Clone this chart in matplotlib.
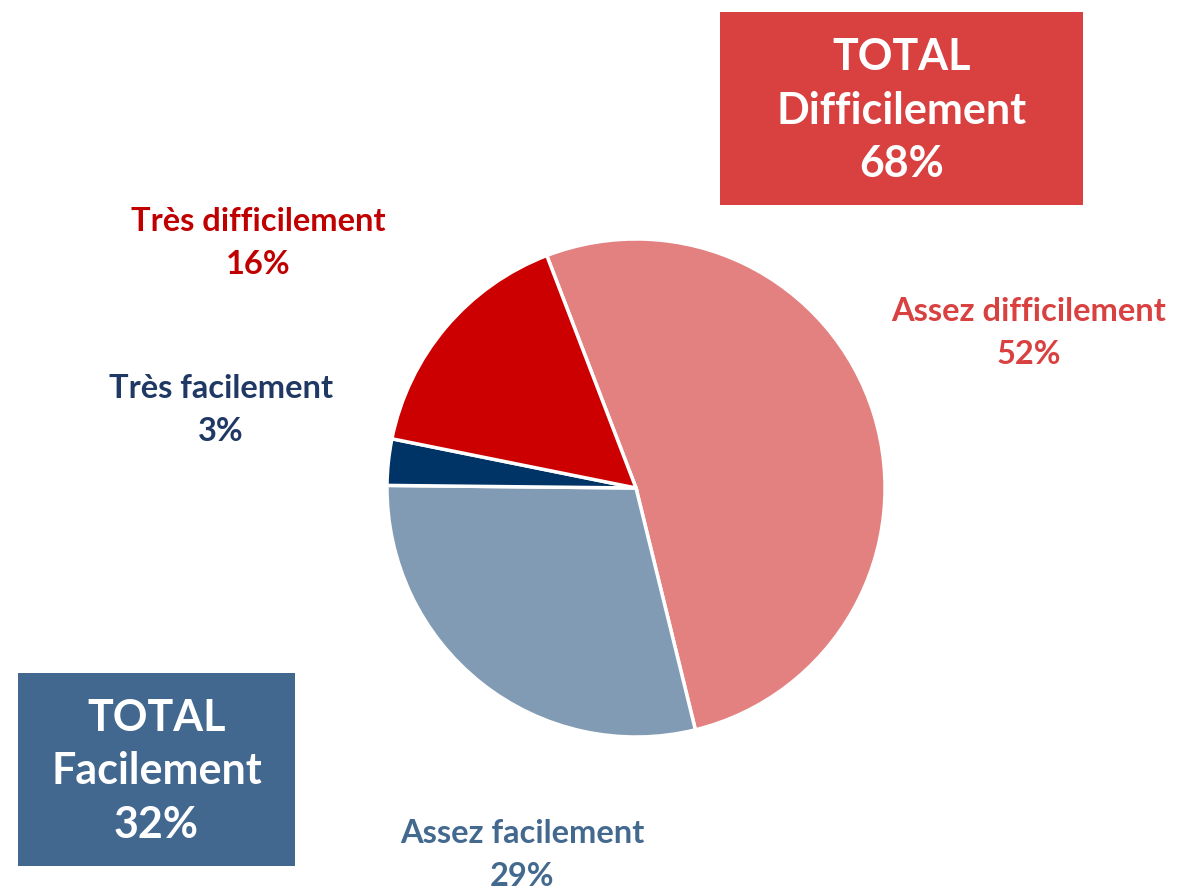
import matplotlib.pyplot as plt
from matplotlib.patches import Rectangle

# Data
labels = ["Assez difficilement", "Assez facilement", "Très facilement", "Très difficilement"]
values = [52, 29, 3, 16]
colors = ["#E38080", "#819BB4", "#003366", "#CC0000"]
label_colors = ["#D94141", "#44698F", "#1F3864", "#C00000"]
label_pos = [(1029, 333), (522, 855), (221, 410), (258, 243)]

totals = ["TOTAL\nDifficilement\n68%", "TOTAL\nFacilement\n32%"]
total_colors = ["#D94141", "#426890"]
# boxes: x0, y0(top), x1, y1(bottom) in pixel coords
total_boxes = [(720, 12, 1083, 205), (18, 673, 295, 866)]

W, H = 1181, 892
plt.rcParams['font.family'] = ['Lato', 'DejaVu Sans']

fig = plt.figure(figsize=(W / 100, H / 100), dpi=100)
ax = fig.add_axes([0, 0, 1, 1])

# pie
ax.pie(values, colors=colors, startangle=111, counterclock=False,
       center=(636, H - 488), radius=249,
       explode=[0.025, 0, 0, 0],
       wedgeprops=dict(edgecolor="white", linewidth=2.5), frame=True)
ax.set_xlim(0, W)
ax.set_ylim(0, H)
ax.set_aspect("equal")
ax.axis("off")

# slice labels
for lab, v, c, (x, y) in zip(labels, values, label_colors, label_pos):
    ax.text(x, H - y, f"{lab}\n{v}%", color=c, fontsize=23.5, fontweight="bold",
            ha="center", va="center", linespacing=1.55)

# total boxes
for txt, c, (x0, y0, x1, y1) in zip(totals, total_colors, total_boxes):
    ax.add_patch(Rectangle((x0, H - y1), x1 - x0, y1 - y0, facecolor=c, edgecolor="none"))
    ax.text((x0 + x1) / 2, H - (y0 + y1) / 2 - 2, txt, color="white", fontsize=31,
            fontweight="bold", ha="center", va="center", linespacing=1.4)

fig.savefig("out.png", dpi=100)
